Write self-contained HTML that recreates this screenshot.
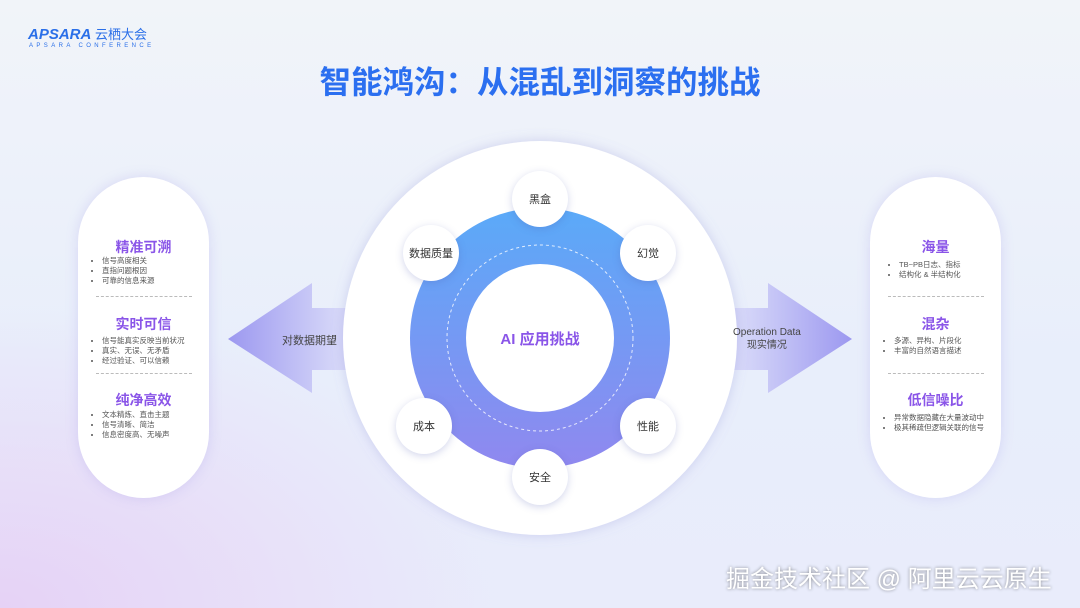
<!DOCTYPE html>
<html><head><meta charset="utf-8"><style>
html,body{margin:0;padding:0}
body{width:1080px;height:608px;overflow:hidden;position:relative;font-family:"Liberation Sans","Noto Sans CJK SC",sans-serif;
background:radial-gradient(ellipse 500px 300px at 0% 100%,#e6d2f6 0%,rgba(230,210,246,0) 100%),linear-gradient(180deg,#f1f4f9 0%,#e8eefb 60%,#e9ecfb 100%);}
.abs{position:absolute}
.card{position:absolute;top:177px;width:131px;height:321px;background:#fff;border-radius:66px;box-shadow:0 0 12px rgba(150,140,230,.25)}
.h{color:#8a55e8;font-weight:bold;font-size:14px;text-align:center;position:absolute;width:100%}
ul{position:absolute;margin:0;padding:0 0 0 12px;font-size:7.5px;color:#555;line-height:10px;list-style:disc}
.dash{position:absolute;left:18px;width:96px;border-top:1px dashed #bbb}
.node{position:absolute;width:56px;height:56px;border-radius:50%;background:#fff;box-shadow:0 2px 8px rgba(80,90,180,.25);font-size:11px;color:#333;display:flex;align-items:center;justify-content:center}
</style></head><body>
<div class="abs" style="left:28px;top:24px;color:#2a6fe8;font-weight:bold;font-style:italic;font-size:15px">APSARA <span style="font-style:normal;font-weight:normal;font-size:13px">云栖大会</span></div>
<div class="abs" style="left:29px;top:43px;color:#2a6fe8;font-size:6px;letter-spacing:3.4px">APSARA CONFERENCE</div>
<div class="abs" style="left:0;width:1080px;top:57px;text-align:center;font-size:31.5px;font-weight:bold;color:#2b6ff0">智能鸿沟：从混乱到洞察的挑战</div>

<svg class="abs" style="left:0;top:0" width="1080" height="608">
<defs>
<linearGradient id="la" x1="0" x2="1"><stop offset="0" stop-color="#9c98f0"/><stop offset="0.5" stop-color="#d4d5f8"/><stop offset="1" stop-color="#eef0fc" stop-opacity="0.3"/></linearGradient>
<linearGradient id="ra" x1="1" x2="0"><stop offset="0" stop-color="#9c98f0"/><stop offset="0.5" stop-color="#d4d5f8"/><stop offset="1" stop-color="#eef0fc" stop-opacity="0.3"/></linearGradient>
<linearGradient id="ring" x1="0" y1="0" x2="0" y2="1"><stop offset="0" stop-color="#5aaaf8"/><stop offset="1" stop-color="#9088ef"/></linearGradient>
<filter id="sh"><feDropShadow dx="0" dy="0" stdDeviation="6" flood-color="#8080d0" flood-opacity="0.3"/></filter>
</defs>
<polygon points="228,339 312,283 312,308 440,308 440,370 312,370 312,393" fill="url(#la)"/>
<polygon points="852,339 768,283 768,308 640,308 640,370 768,370 768,393" fill="url(#ra)"/>
<circle cx="540" cy="338" r="197" fill="#fff" filter="url(#sh)"/>
<circle cx="540" cy="338" r="130" fill="url(#ring)"/>
<circle cx="540" cy="338" r="93" fill="none" stroke="#fff" stroke-width="1" stroke-dasharray="3,3" opacity="0.8"/>
<circle cx="540" cy="338" r="74" fill="#fff"/>
</svg>
<div class="abs" style="left:282px;top:332px;font-size:11px;color:#444">对数据期望</div>
<div class="abs" style="left:733px;top:326px;font-size:10px;color:#444;text-align:center;line-height:13px">Operation Data<br>现实情况</div>
<div class="abs" style="left:466px;top:328px;width:148px;text-align:center;font-size:15px;font-weight:bold;color:#8a55e8">AI 应用挑战</div>

<div class="node" style="left:512px;top:171px">黑盒</div>
<div class="node" style="left:620px;top:225px">幻觉</div>
<div class="node" style="left:620px;top:398px">性能</div>
<div class="node" style="left:512px;top:449px">安全</div>
<div class="node" style="left:396px;top:398px">成本</div>
<div class="node" style="left:403px;top:225px">数据质量</div>

<div class="card" style="left:78px">
<div class="h" style="top:60px">精准可溯</div>
<ul style="left:12px;top:79px"><li>信号高度相关</li><li>直指问题根因</li><li>可靠的信息来源</li></ul>
<div class="dash" style="top:119px"></div>
<div class="h" style="top:137px">实时可信</div>
<ul style="left:12px;top:159px"><li>信号能真实反映当前状况</li><li>真实、无误、无矛盾</li><li>经过验证、可以信赖</li></ul>
<div class="dash" style="top:196px"></div>
<div class="h" style="top:213px">纯净高效</div>
<ul style="left:12px;top:233px"><li>文本精炼、直击主题</li><li>信号清晰、简洁</li><li>信息密度高、无噪声</li></ul>
</div>

<div class="card" style="left:870px">
<div class="h" style="top:60px">海量</div>
<ul style="left:17px;top:83px"><li>TB~PB日志、指标</li><li>结构化 &amp; 半结构化</li></ul>
<div class="dash" style="top:119px"></div>
<div class="h" style="top:137px">混杂</div>
<ul style="left:12px;top:159px"><li>多源、异构、片段化</li><li>丰富的自然语言描述</li></ul>
<div class="dash" style="top:196px"></div>
<div class="h" style="top:213px">低信噪比</div>
<ul style="left:12px;top:236px"><li>异常数据隐藏在大量波动中</li><li>极其稀疏但逻辑关联的信号</li></ul>
</div>

<div class="abs" style="left:726px;top:559px;font-size:24px;color:#fff;text-shadow:0 0 3px rgba(0,0,0,.45)">掘金技术社区 @ 阿里云云原生</div>
</body></html>
